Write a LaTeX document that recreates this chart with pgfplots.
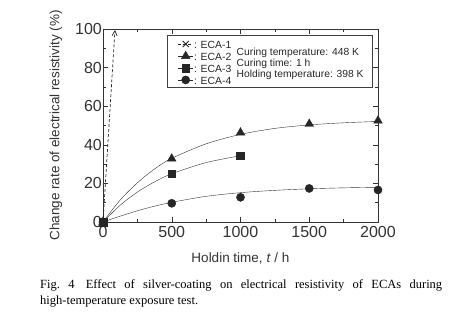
\documentclass[border=0pt]{standalone}
\usepackage{fontspec}
\setmainfont{Liberation Sans}
\newfontfamily\capfont{Liberation Serif}
\usepackage{pgfplots}
\pgfplotsset{compat=1.18}
\usetikzlibrary{arrows.meta}
\begin{document}
\begin{tikzpicture}[x=1pt,y=1pt]
\path[use as bounding box] (0,0) rectangle (453,335);
\begin{axis}[
  scale only axis, width=275pt, height=193pt,
  at={(103pt,113pt)}, anchor=south west,
  xmin=0, xmax=2000, ymin=0, ymax=100,
  xtick={0,500,...,2000}, ytick={0,20,...,100},
  minor x tick num=1, minor y tick num=1,
  tick align=inside, xtick pos=both, ytick pos=both,
  xticklabel pos=bottom, yticklabel pos=left,
  major tick length=5pt, minor tick length=3pt,
  axis line style={black!80, line width=0.6pt},
  every tick/.style={black!80, line width=0.5pt},
  tick label style={font=\fontsize{16}{16}\selectfont, text=black!80},
  yticklabel style={inner sep=1pt},
  xticklabel style={inner sep=4pt},
  /pgf/number format/assume math mode=true,
  /pgf/number format/1000 sep={},
  label style={font=\fontsize{13.5}{14}\selectfont, text=black!80},
  xlabel={Holdin time, \textit{t} / h},
  ylabel={Change rate of electrical resistivity (\%)},
  xlabel style={at={(axis description cs:0.5,-0.187)}, anchor=center},
  ylabel style={at={(axis description cs:-0.171,0.5)}, anchor=center},
  clip=false,
  legend style={at={(rel axis cs:0.272,0.948)}, anchor=north west, draw=none, fill=none,
    inner sep=0pt, row sep=2.4pt, font=\fontsize{10.4}{11}\selectfont,
    nodes={inner sep=0.6pt, text height=8.3pt, text depth=0pt, text=black!85}},
  legend cell align=left,
  legend image code/.code={\draw[mark repeat=2,mark phase=2,#1] plot coordinates {(0pt,0pt) (7.5pt,0pt) (15pt,0pt)};},
]
% legend entries
\addlegendimage{black!85, densely dashed, thin, mark=x, mark size=4.3pt, mark options={solid, line width=0.9pt}}
\addlegendentry{: ECA-1}
\addlegendimage{black!85, thin, mark=triangle*, mark size=5pt, mark options={solid}}
\addlegendentry{: ECA-2}
\addlegendimage{black!85, thin, mark=square*, mark size=3.9pt, mark options={solid}}
\addlegendentry{: ECA-3}
\addlegendimage{black!85, thin, mark=*, mark size=4.1pt, mark options={solid}}
\addlegendentry{: ECA-4}

% fitted curves
\addplot[black!80, thin, smooth, forget plot] coordinates {
 (0,0) (125,11.4) (250,20.3) (375,27.5) (500,33) (750,40.5) (1000,45.4) (1250,48.5) (1500,50.3) (1750,51.4) (2000,52.1)};
\addplot[black!80, thin, smooth, forget plot] coordinates {
 (0,0) (125,8.7) (250,15.5) (375,20.8) (500,25) (750,30.8) (1000,34.3)};
\addplot[black!80, thin, smooth, forget plot] coordinates {
 (0,0) (125,3.0) (250,5.8) (375,8.2) (500,10.2) (750,13.3) (1000,15.2) (1250,16.4) (1500,17.2) (1750,17.7) (2000,18)};
% ECA-1 arrow
\addplot[black!85, densely dashed, line width=0.7pt, -{Straight Barb[length=5pt,width=5pt]}, forget plot] coordinates {(0,0) (87,99.5)};
% data points
\addplot[only marks, mark=x, mark size=4.3pt, black!85, line width=0.9pt, forget plot] coordinates {(0,0)};
\addplot[only marks, mark=triangle*, mark size=5pt, black!85, forget plot] coordinates {
 (0,0) (500,32.8) (1000,46.3) (1500,50.8) (2000,52.5)};
\addplot[only marks, mark=square*, mark size=3.9pt, black!85, forget plot] coordinates {
 (0,0) (500,25) (1000,34.4)};
\addplot[only marks, mark=*, mark size=4.1pt, black!85, forget plot] coordinates {
 (0,0) (500,9.7) (1000,12.8) (1500,17.4) (2000,16.6)};
% legend frame and conditions text
\draw[black!75, line width=0.6pt] (rel axis cs:0.2327,0.969) rectangle (rel axis cs:0.978,0.699);
\node[anchor=west, align=left, inner sep=0pt, text=black!85,
  font=\fontsize{10.3}{11}\selectfont] at (rel axis cs:0.4855,0.822)
  {Curing temperature: 448 K\\Curing time: 1 h\\Holding temperature: 398 K};
\end{axis}
\node[anchor=north west, inner sep=0pt, text width=402pt, align=justify,
  font=\capfont\fontsize{12.5}{16}\selectfont] at (40,56)
  {\hangindent=9pt\hangafter=1 Fig.\ 4\hspace{0.9em}Effect of silver-coating on electrical resistivity of ECAs during\linebreak high-temperature exposure test.};
\end{tikzpicture}
\end{document}
